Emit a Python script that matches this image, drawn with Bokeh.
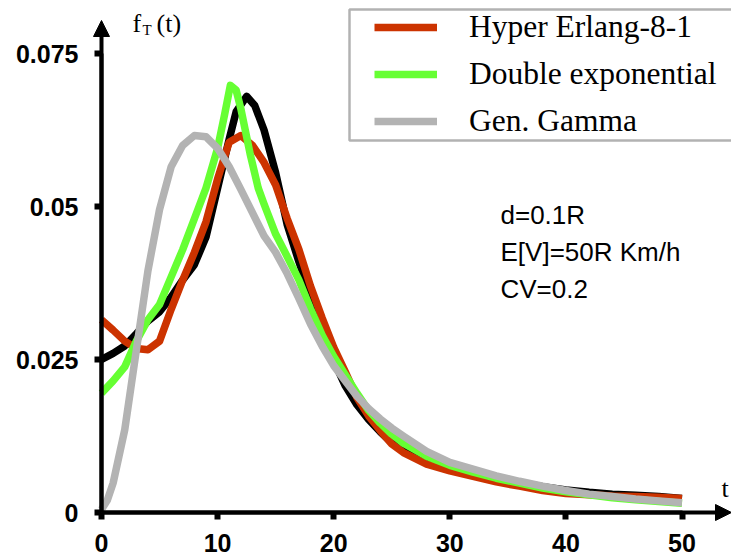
from bokeh.plotting import figure
from bokeh.models import (Range1d, FixedTicker, Arrow, NormalHead, Label,
                          Legend, LegendItem, BoxAnnotation)
from bokeh.embed import file_html
from bokeh.resources import INLINE

# ---------------- data ----------------
t_black = [0, 1, 2, 3, 4, 5, 6, 7, 8, 9, 10, 11, 11.6, 12.5, 13.2, 14, 15, 16, 17, 18, 19, 20,
           21, 22, 23, 24, 25, 26, 28, 30, 32, 34, 36, 38, 40, 42, 44, 46, 48, 50]
f_black = [0.0250, 0.0260, 0.0272, 0.0292, 0.0313, 0.0328, 0.0352, 0.0380, 0.0405, 0.0450,
           0.0530, 0.0610, 0.0655, 0.0680, 0.0665, 0.0625, 0.0555, 0.0470, 0.0410, 0.0355,
           0.0305, 0.0248, 0.0207, 0.0176, 0.0152, 0.0132, 0.0114, 0.0102, 0.0086, 0.0075,
           0.0066, 0.0057, 0.0049, 0.0042, 0.0037, 0.0033, 0.0030, 0.0028, 0.0026, 0.0023]

t_red = [0, 1, 2, 3, 4, 5, 6, 7, 8, 9, 10, 11, 12, 13, 14, 15, 16, 17, 18, 19, 20,
         21, 22, 23, 24, 25, 26, 28, 30, 32, 34, 36, 38, 40, 42, 44, 46, 48, 50]
f_red = [0.0315, 0.0298, 0.0280, 0.0268, 0.0266, 0.0280, 0.0332, 0.0380, 0.0425, 0.0475,
         0.0545, 0.0605, 0.0616, 0.0600, 0.0572, 0.0535, 0.0480, 0.0430, 0.0370, 0.0318,
         0.0270, 0.0230, 0.0188, 0.0158, 0.0134, 0.0112, 0.0098, 0.0079, 0.0068, 0.0059,
         0.0050, 0.0043, 0.0036, 0.0031, 0.0029, 0.0027, 0.0026, 0.0025, 0.0023]

t_green = [0, 1, 2, 3, 4, 5, 6, 7, 8, 9, 10, 10.6, 11.1, 11.6, 12, 12.8, 13.5, 14, 15, 16,
           17, 18, 19, 20, 21, 22, 23, 24, 25, 26, 28, 30, 32, 34, 36, 38, 40, 42, 44, 46, 48, 50]
f_green = [0.0195, 0.0215, 0.0238, 0.0280, 0.0315, 0.0340, 0.0385, 0.0430, 0.0480, 0.0530,
           0.0595, 0.0650, 0.0698, 0.0690, 0.0660, 0.0586, 0.0530, 0.0504, 0.0455, 0.0418,
           0.0380, 0.0333, 0.0290, 0.0255, 0.0225, 0.0195, 0.0167, 0.0146, 0.0128, 0.0113,
           0.0092, 0.0077, 0.0066, 0.0056, 0.0048, 0.0040, 0.0034, 0.0029, 0.0024, 0.0021,
           0.0018, 0.0015]

t_gray = [0, 0.5, 1, 2, 3, 4, 5, 6, 7, 8, 9, 10, 11, 12, 13, 14, 15, 16, 17, 18, 19, 20,
          21, 22, 23, 24, 25, 26, 28, 30, 32, 34, 36, 38, 40, 42, 44, 46, 48, 50]
f_gray = [0.0005, 0.0020, 0.0048, 0.0135, 0.0265, 0.0395, 0.0495, 0.0565, 0.0600, 0.0616,
          0.0614, 0.0595, 0.0565, 0.0528, 0.0490, 0.0452, 0.0425, 0.0390, 0.0350, 0.0308,
          0.0272, 0.0240, 0.0215, 0.0190, 0.0170, 0.0153, 0.0138, 0.0125, 0.0100, 0.0082,
          0.0071, 0.0060, 0.0051, 0.0043, 0.0036, 0.0030, 0.0026, 0.0022, 0.0019, 0.0016]

x_ticks = [0, 10, 20, 30, 40, 50]
x_tick_labels = ["0", "10", "20", "30", "40", "50"]
y_ticks = [0, 0.025, 0.05, 0.075]
y_tick_labels = ["0", "0.025", "0.05", "0.075"]
legend_labels = ["Hyper Erlang-8-1", "Double exponential", "Gen. Gamma"]
notes = ["d=0.1R", "E[V]=50R Km/h", "CV=0.2"]

# ---------------- layout / style ----------------
W, H = 731, 557
ORIGIN_X = 101     # px from canvas left to t = 0
ORIGIN_Y = 45      # px from canvas bottom to f = 0
PX_T = 11.61       # px per unit t
PX_F = 6120.0      # px per unit f
Y_ARROW = (H - ORIGIN_Y - 20) / PX_F
X_END = (W - ORIGIN_X) / PX_T

RED, GREEN, GRAY, BLACK = "#CC3300", "#66FF33", "#B3B3B3", "#000000"
LW = 7.5

p = figure(width=W, height=H, output_backend="svg", toolbar_location=None,
           x_range=Range1d(-ORIGIN_X / PX_T, X_END),
           y_range=Range1d(-ORIGIN_Y / PX_F, (H - ORIGIN_Y) / PX_F),
           min_border=0, min_border_left=0, min_border_right=0,
           min_border_top=0, min_border_bottom=0)
p.outline_line_color = None
p.xgrid.visible = False
p.ygrid.visible = False
p.background_fill_color = "white"
p.border_fill_color = "white"

r_black = p.line(t_black, f_black, line_color=BLACK, line_width=LW, line_join="round")
r_red = p.line(t_red, f_red, line_color=RED, line_width=LW, line_join="round")
r_green = p.line(t_green, f_green, line_color=GREEN, line_width=LW, line_join="round")
r_gray = p.line(t_gray, f_gray, line_color=GRAY, line_width=LW, line_join="round")

# axes crossing at the origin
for ax in (p.xaxis[0], p.yaxis[0]):
    ax.fixed_location = 0
    ax.axis_line_width = 4
    ax.axis_line_color = "black"
    ax.major_tick_line_width = 6
    ax.major_tick_line_color = "black"
    ax.major_tick_in = 0
    ax.major_tick_out = 7
    ax.minor_tick_line_color = None
    ax.major_label_text_font = "Liberation Sans"
    ax.major_label_text_font_style = "bold"
    ax.major_label_text_font_size = "25px"
    ax.major_label_text_color = "black"

p.xaxis.ticker = FixedTicker(ticks=x_ticks)
p.xaxis.major_label_overrides = dict(zip(x_ticks, x_tick_labels))
p.xaxis.bounds = (0, x_ticks[-1])
p.xaxis.major_label_standoff = 14

p.yaxis.ticker = FixedTicker(ticks=y_ticks)
p.yaxis.major_label_overrides = dict(zip(y_ticks, y_tick_labels))
p.yaxis.bounds = (0, y_ticks[-1])
p.yaxis.major_label_standoff = 16

p.add_layout(Arrow(end=NormalHead(size=16, fill_color="black", line_color="black", line_width=1),
                   x_start=0, y_start=0, x_end=0, y_end=Y_ARROW,
                   line_width=4, line_color="black"))
p.add_layout(Arrow(end=NormalHead(size=16, fill_color="black", line_color="black", line_width=1),
                   x_start=0, y_start=0, x_end=X_END, y_end=0,
                   line_width=4, line_color="black"))

LABEL_DY = 10   # label baseline correction (px)

def sx(page_x):
    return page_x

def sy(page_y):
    return H - page_y + LABEL_DY

serif = "Liberation Serif"
sans = "Liberation Sans"

# axis titles
p.add_layout(Label(x=sx(132), y=sy(33), x_units="screen", y_units="screen", text="f",
                   text_font=serif, text_font_size="26px", text_baseline="alphabetic",
                   text_color="black"))
p.add_layout(Label(x=sx(142), y=sy(39), x_units="screen", y_units="screen", text="T",
                   text_font=serif, text_font_size="15px", text_baseline="alphabetic",
                   text_color="black"))
p.add_layout(Label(x=sx(156), y=sy(33), x_units="screen", y_units="screen", text="(t)",
                   text_font=serif, text_font_size="26px", text_baseline="alphabetic",
                   text_color="black"))
p.add_layout(Label(x=sx(721), y=sy(498), x_units="screen", y_units="screen", text="t",
                   text_font=serif, text_font_size="26px", text_baseline="alphabetic",
                   text_color="black"))

# parameter notes
for i, s in enumerate(notes):
    p.add_layout(Label(x=sx(500), y=sy(224 + 37 * i), x_units="screen", y_units="screen",
                       text=s, text_font=sans, text_font_size="26px",
                       text_baseline="alphabetic", text_color="black"))

# legend frame
p.add_layout(BoxAnnotation(left=sx(349), right=sx(900), top=sy(9) - LABEL_DY,
                           bottom=sy(140) - LABEL_DY,
                           left_units="screen", right_units="screen",
                           top_units="screen", bottom_units="screen",
                           fill_color="white", fill_alpha=1.0,
                           line_color="black", line_width=2.5))

ROW_H, ROW_GAP = 34, 11
legend = Legend(items=[LegendItem(label=legend_labels[0], renderers=[r_red]),
                       LegendItem(label=legend_labels[1], renderers=[r_green]),
                       LegendItem(label=legend_labels[2], renderers=[r_gray])],
                location=(sx(374), H - (15 + 3 * ROW_H + 2 * ROW_GAP)),
                padding=0, margin=0, spacing=ROW_GAP,
                glyph_width=63, glyph_height=ROW_H, label_height=ROW_H,
                label_standoff=32,
                label_text_font=serif, label_text_font_size="31.5px",
                label_text_color="black",
                border_line_alpha=0, background_fill_alpha=0)
p.add_layout(legend)

open("out.html", "w").write(file_html(p, INLINE))
